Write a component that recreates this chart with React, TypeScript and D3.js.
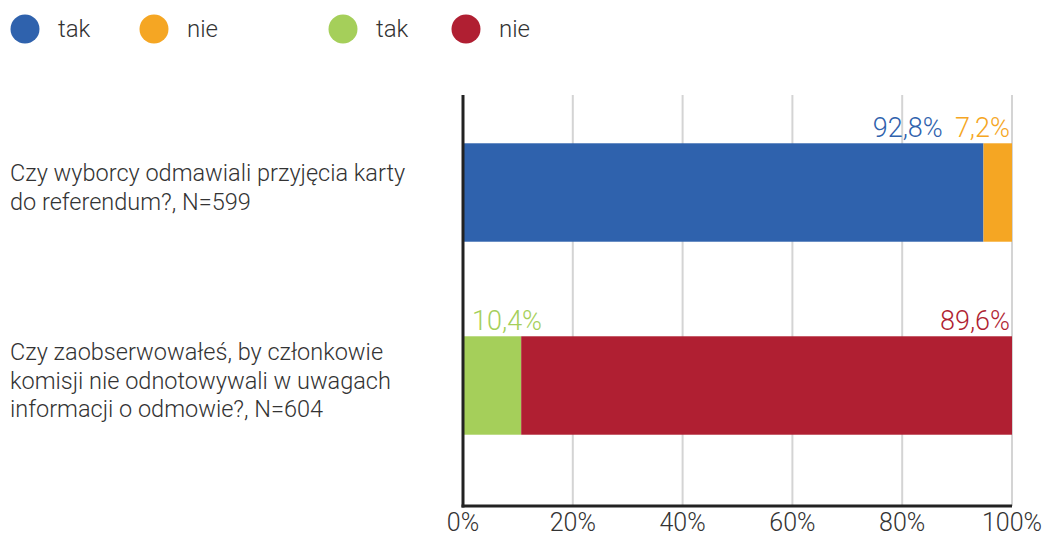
import React from "react";
import * as d3 from "d3";

const categories = [
  ["Czy wyborcy odmawiali przyjęcia karty", "do referendum?, N=599"],
  ["Czy zaobserwowałeś, by członkowie", "komisji nie odnotowywali w uwagach", "informacji o odmowie?, N=604"],
];
// segment lengths (percent)
const takValues = [94.8, 10.6];
const nieValues = [5.2, 89.4];
// printed labels
const takLabels = ["92,8%", "10,4%"];
const nieLabels = ["7,2%", "89,6%"];
const takColors = ["#2f62ad", "#a5cf5a"];
const nieColors = ["#f5a623", "#b01f32"];
const legendItems = [
  { label: "tak", color: "#2f62ad" },
  { label: "nie", color: "#f5a623" },
  { label: "tak", color: "#a5cf5a" },
  { label: "nie", color: "#b01f32" },
];
const ticks = [0, 20, 40, 60, 80, 100];

const W = 1046;
const H = 538;
const FONT = "Roboto, 'Noto Sans', sans-serif";
const TEXT = "#333333";

export default function App() {
  const x = d3.scaleLinear().domain([0, 100]).range([463, 1012]);
  const y = d3
    .scaleBand<number>()
    .domain([0, 1])
    .range([96, 482])
    .paddingInner(0.49)
    .paddingOuter(0.245);
  const plotTop = 95;
  const plotBottom = 506;
  const legendX = [25, 154, 343, 466];

  return (
    <svg
      width={W}
      height={H}
      style={{ position: "absolute", left: 0, top: 0, background: "#fff" }}
      fontFamily={FONT}
    >
      {/* legend */}
      {legendItems.map((d, i) => (
        <g key={i}>
          <circle cx={legendX[i]} cy={29} r={14.5} fill={d.color} />
          <text x={legendX[i] + 33} y={37} fontSize={24} fontWeight={300} fill={TEXT}>
            {d.label}
          </text>
        </g>
      ))}

      {/* gridlines */}
      {ticks.slice(1).map((t) => (
        <line
          key={t}
          x1={x(t)}
          x2={x(t)}
          y1={plotTop}
          y2={plotBottom}
          stroke="#d4d4d4"
          strokeWidth={2}
        />
      ))}

      {/* bars */}
      {categories.map((_, i) => {
        const by = y(i)!;
        const bh = y.bandwidth();
        const takEnd = x(takValues[i]);
        const nieEnd = x(takValues[i] + nieValues[i]);
        const nieLabelEnd = x(100) - 2;
        const nieLabelW = nieLabels[i].length * 13.8;
        const takBig = takValues[i] > 50;
        return (
          <g key={i}>
            <rect x={x(0)} y={by} width={takEnd - x(0)} height={bh} fill={takColors[i]} />
            <rect x={takEnd} y={by} width={nieEnd - takEnd} height={bh} fill={nieColors[i]} />
            <text
              x={takBig ? nieLabelEnd - nieLabelW - 12 : x(0) + 9}
              y={by - 6}
              textAnchor={takBig ? "end" : "start"}
              fontSize={27}
              fontWeight={300}
              fill={takColors[i]}
            >
              {takLabels[i]}
            </text>
            <text
              x={nieLabelEnd}
              y={by - 6}
              textAnchor="end"
              fontSize={27}
              fontWeight={300}
              fill={nieColors[i]}
            >
              {nieLabels[i]}
            </text>
          </g>
        );
      })}

      {/* category labels */}
      {categories.map((lines, i) => {
        const cy = y(i)! + y.bandwidth() / 2 - 5;
        const lh = 28.5;
        const top = cy - ((lines.length - 1) * lh) / 2;
        return (
          <text key={i} fontSize={23.5} fontWeight={300} fill={TEXT}>
            {lines.map((l, j) => (
              <tspan key={j} x={10} y={top + j * lh + 8}>
                {l}
              </tspan>
            ))}
          </text>
        );
      })}

      {/* axes */}
      <line x1={x(0)} x2={x(0)} y1={plotTop} y2={plotBottom + 1.5} stroke="#222" strokeWidth={3} />
      <line x1={x(0) - 1.5} x2={x(100)} y1={plotBottom} y2={plotBottom} stroke="#222" strokeWidth={3} />
      {ticks.map((t) => (
        <text
          key={t}
          x={x(t)}
          y={531}
          textAnchor="middle"
          fontSize={25}
          fontWeight={300}
          fill={TEXT}
        >
          {t}%
        </text>
      ))}
    </svg>
  );
}
